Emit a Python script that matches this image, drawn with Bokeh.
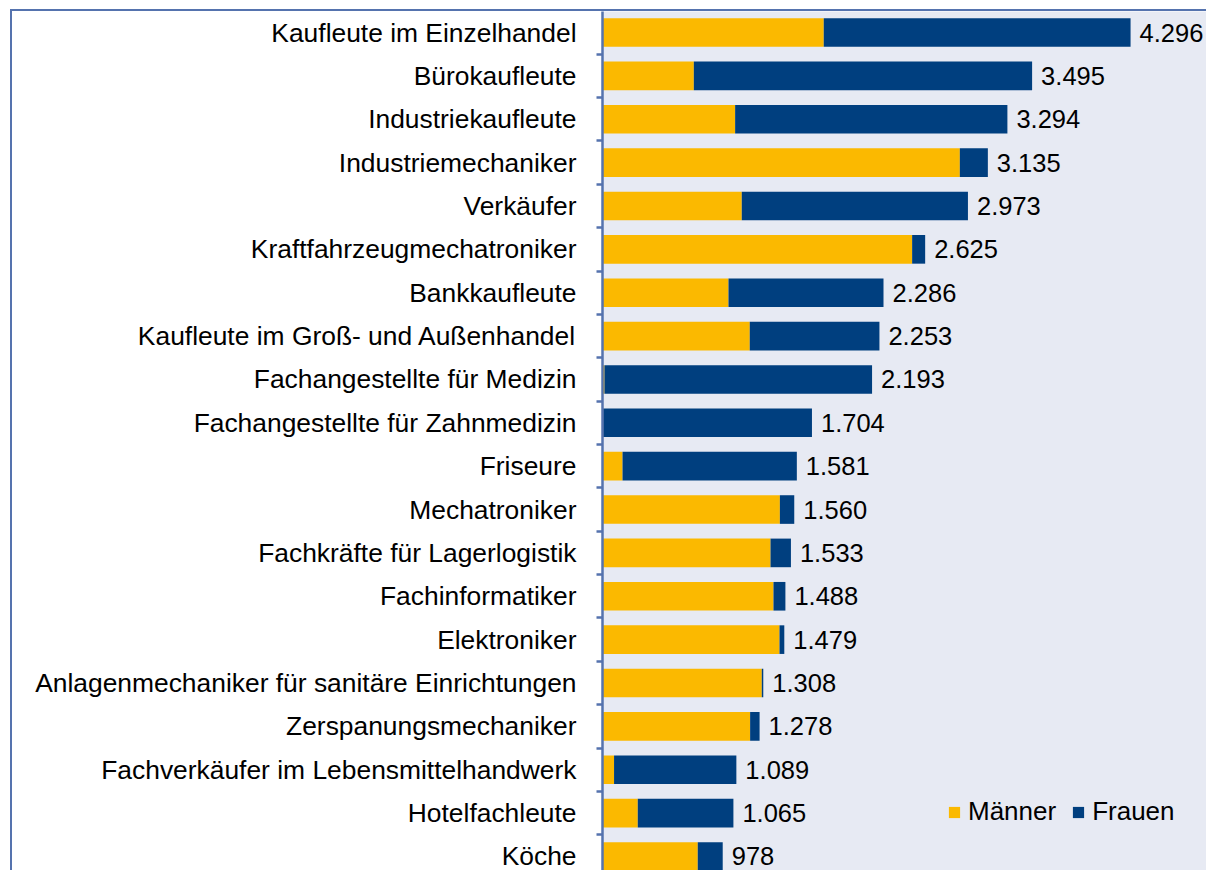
from bokeh.plotting import figure
from bokeh.models import Range1d, FixedTicker, Legend, LegendItem, ColumnDataSource
from bokeh.embed import file_html
from bokeh.resources import INLINE
from bokeh.core.properties import value

categories = [
    "Kaufleute im Einzelhandel",
    "Bürokaufleute",
    "Industriekaufleute",
    "Industriemechaniker",
    "Verkäufer",
    "Kraftfahrzeugmechatroniker",
    "Bankkaufleute",
    "Kaufleute im Groß- und Außenhandel",
    "Fachangestellte für Medizin",
    "Fachangestellte für Zahnmedizin",
    "Friseure",
    "Mechatroniker",
    "Fachkräfte für Lagerlogistik",
    "Fachinformatiker",
    "Elektroniker",
    "Anlagenmechaniker für sanitäre Einrichtungen",
    "Zerspanungsmechaniker",
    "Fachverkäufer im Lebensmittelhandwerk",
    "Hotelfachleute",
    "Köche",
]
maenner = [1800, 743, 1079, 2907, 1133, 2519, 1025, 1198, 16, 5,
           163, 1443, 1367, 1391, 1440, 1296, 1201, 94, 287, 775]
frauen = [2496, 2752, 2215, 228, 1840, 106, 1261, 1055, 2177, 1699,
          1418, 117, 166, 97, 39, 12, 77, 995, 778, 203]
totals = [4296, 3495, 3294, 3135, 2973, 2625, 2286, 2253, 2193, 1704,
          1581, 1560, 1533, 1488, 1479, 1308, 1278, 1089, 1065, 978]
series_names = ["Männer", "Frauen"]

YELLOW = "#FBB900"
BLUE = "#003F7F"
AXIS = "#5573AE"
BG = "#E7EAF3"
FONT = "Liberation Sans"

src = ColumnDataSource(dict(
    y=list(range(len(categories))),
    m=maenner,
    f=frauen,
    total=totals,
    label=[f"{t:,}".replace(",", ".") for t in totals],
))

p = figure(width=1196, height=861, output_backend="svg", toolbar_location=None,
           x_range=Range1d(0, 4930), y_range=Range1d(19.37, -0.485),
           x_axis_location=None,
           min_border_left=590, min_border_right=0, min_border_top=0, min_border_bottom=0)
p.styles = {"position": "absolute", "left": "10px", "top": "9px",
            "border-left": f"2px solid {AXIS}", "border-top": f"2px solid {AXIS}"}

p.background_fill_color = BG
p.border_fill_color = "white"
p.outline_line_color = None
p.xgrid.visible = False
p.ygrid.visible = False

rs = p.hbar_stack(["m", "f"], y="y", height=0.66, color=[YELLOW, BLUE],
                  line_color=None, source=src)

p.text(x="total", y="y", text="label", x_offset=9, text_baseline="middle",
       text_align="left", text_font=value(FONT), text_font_size="25.5px",
       text_color="black", source=src)

ax = p.yaxis[0]
ax.ticker = FixedTicker(ticks=list(range(len(categories))),
                        minor_ticks=[i - 0.5 for i in range(len(categories) + 1)])
ax.major_label_overrides = {i: c for i, c in enumerate(categories)}
ax.major_tick_line_color = None
ax.major_tick_out = 0
ax.major_tick_in = 0
ax.minor_tick_line_color = AXIS
ax.minor_tick_line_width = 2.5
ax.minor_tick_out = 6
ax.minor_tick_in = 0
ax.axis_line_color = AXIS
ax.axis_line_width = 2.5
ax.major_label_standoff = 20
ax.major_label_text_font = FONT
ax.major_label_text_font_size = "26.4px"
ax.major_label_text_color = "black"

legend = Legend(items=[LegendItem(label=series_names[0], renderers=[rs[0]]),
                       LegendItem(label=series_names[1], renderers=[rs[1]])],
                orientation="horizontal", location=(345, 45),
                glyph_width=14, glyph_height=14, label_standoff=7, spacing=15,
                padding=0, margin=0, border_line_color=None,
                background_fill_alpha=0,
                label_text_font=FONT, label_text_font_size="26px",
                label_text_color="black")
p.add_layout(legend)

open("out.html", "w").write(file_html(p, INLINE))
